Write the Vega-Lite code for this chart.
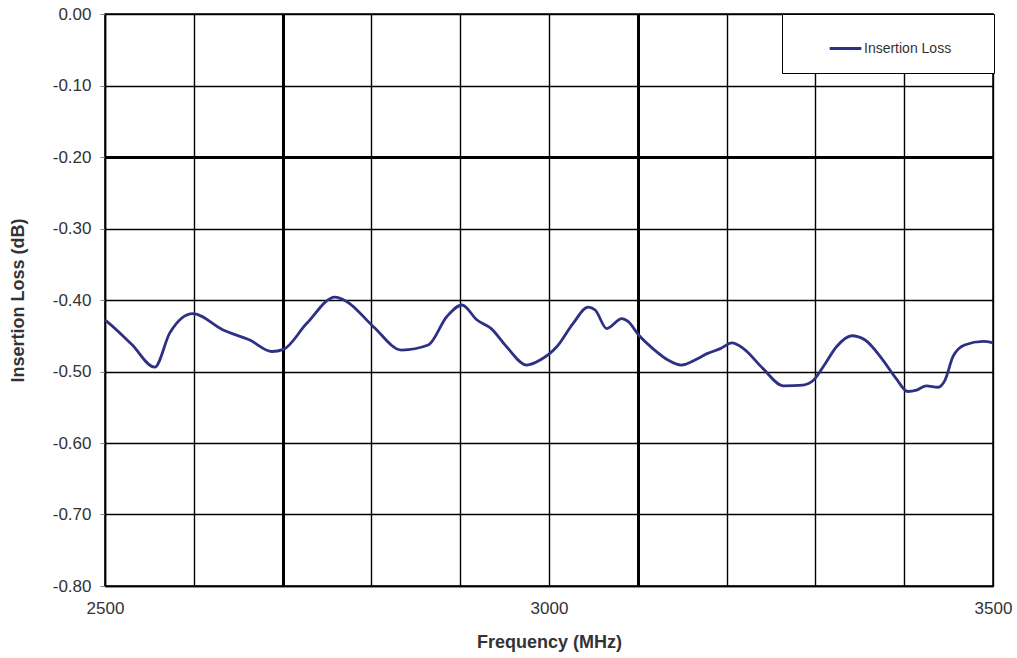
{
  "$schema": "https://vega.github.io/schema/vega-lite/v6.json",
  "width": 888,
  "height": 572,
  "autosize": "none",
  "padding": {"left": 105, "top": 14, "right": 24, "bottom": 72},
  "background": "white",
  "config": {
    "font": "Liberation Sans",
    "view": {"stroke": "black", "strokeWidth": 1.5}
  },
  "data": {
    "values": [
      {"freq": 2500, "loss": -0.428},
      {"freq": 2502, "loss": -0.430},
      {"freq": 2530, "loss": -0.462},
      {"freq": 2556, "loss": -0.494},
      {"freq": 2573, "loss": -0.446},
      {"freq": 2599, "loss": -0.419},
      {"freq": 2633, "loss": -0.442},
      {"freq": 2663, "loss": -0.456},
      {"freq": 2688, "loss": -0.472},
      {"freq": 2701, "loss": -0.469},
      {"freq": 2727, "loss": -0.433},
      {"freq": 2759, "loss": -0.396},
      {"freq": 2772, "loss": -0.402},
      {"freq": 2802, "loss": -0.437},
      {"freq": 2834, "loss": -0.470},
      {"freq": 2864, "loss": -0.463},
      {"freq": 2885, "loss": -0.423},
      {"freq": 2902, "loss": -0.407},
      {"freq": 2919, "loss": -0.428},
      {"freq": 2935, "loss": -0.440},
      {"freq": 2952, "loss": -0.465},
      {"freq": 2975, "loss": -0.491},
      {"freq": 2990, "loss": -0.484},
      {"freq": 3009, "loss": -0.465},
      {"freq": 3027, "loss": -0.433},
      {"freq": 3044, "loss": -0.410},
      {"freq": 3052, "loss": -0.414},
      {"freq": 3065, "loss": -0.440},
      {"freq": 3082, "loss": -0.426},
      {"freq": 3089, "loss": -0.430},
      {"freq": 3101, "loss": -0.449},
      {"freq": 3117, "loss": -0.468},
      {"freq": 3134, "loss": -0.484},
      {"freq": 3149, "loss": -0.491},
      {"freq": 3166, "loss": -0.483},
      {"freq": 3178, "loss": -0.475},
      {"freq": 3193, "loss": -0.468},
      {"freq": 3206, "loss": -0.460},
      {"freq": 3219, "loss": -0.468},
      {"freq": 3241, "loss": -0.496},
      {"freq": 3264, "loss": -0.520},
      {"freq": 3286, "loss": -0.519},
      {"freq": 3298, "loss": -0.512},
      {"freq": 3309, "loss": -0.493},
      {"freq": 3324, "loss": -0.465},
      {"freq": 3341, "loss": -0.450},
      {"freq": 3356, "loss": -0.456},
      {"freq": 3376, "loss": -0.484},
      {"freq": 3391, "loss": -0.510},
      {"freq": 3404, "loss": -0.528},
      {"freq": 3414, "loss": -0.526},
      {"freq": 3425, "loss": -0.520},
      {"freq": 3438, "loss": -0.522},
      {"freq": 3446, "loss": -0.512},
      {"freq": 3455, "loss": -0.479},
      {"freq": 3468, "loss": -0.463},
      {"freq": 3489, "loss": -0.458},
      {"freq": 3500, "loss": -0.460}
    ]
  },
  "mark": {"type": "line", "interpolate": "monotone", "strokeWidth": 2.8},
  "encoding": {
    "x": {
      "field": "freq",
      "type": "quantitative",
      "scale": {"domain": [2500, 3500], "nice": false, "zero": false},
      "axis": {
        "values": [2500, 2600, 2700, 2800, 2900, 3000, 3100, 3200, 3300, 3400, 3500],
        "labelExpr": "datum.value % 500 === 0 ? format(datum.value, 'd') : ''",
        "grid": true,
        "gridColor": "black",
        "gridOpacity": 1,
        "gridWidth": {"condition": {"test": "datum.value === 2700 || datum.value === 3100", "value": 3}, "value": 1.4},
        "ticks": false,
        "domainColor": "black",
        "domainWidth": 1.5,
        "labelFontSize": 17,
        "labelColor": "#333333",
        "labelPadding": 14,
        "labelFlush": false,
        "title": "Frequency (MHz)",
        "titleFontSize": 18,
        "titleFontWeight": "bold",
        "titleColor": "#333333",
        "titlePadding": 17
      }
    },
    "y": {
      "field": "loss",
      "type": "quantitative",
      "scale": {"domain": [-0.8, 0], "nice": false, "zero": false},
      "axis": {
        "values": [-0.8, -0.7, -0.6, -0.5, -0.4, -0.3, -0.2, -0.1, 0],
        "labelExpr": "datum.value < -0.001 ? '-' + format(-datum.value, '.2f') : '0.00'",
        "grid": true,
        "gridColor": "black",
        "gridOpacity": 1,
        "gridWidth": {"condition": {"test": "abs(datum.value + 0.2) < 0.001", "value": 3}, "value": 1.4},
        "ticks": true,
        "tickSize": 5,
        "tickColor": "#888888",
        "domainColor": "black",
        "domainWidth": 1.5,
        "labelFontSize": 17,
        "labelColor": "#333333",
        "labelPadding": 9,
        "labelFlush": false,
        "title": "Insertion Loss (dB)",
        "titleFontSize": 18,
        "titleFontWeight": "bold",
        "titleColor": "#333333",
        "titlePadding": 25
      }
    },
    "color": {
      "datum": "Insertion Loss",
      "type": "nominal",
      "scale": {"range": ["#2E3183"]},
      "legend": {
        "orient": "none",
        "legendX": 677,
        "legendY": 0,
        "title": "\u00a0",
        "titleOrient": "right",
        "titleFontSize": 8,
        "titlePadding": 26,
        "strokeColor": "black",
        "fillColor": "white",
        "padding": 17,
        "symbolType": "stroke",
        "symbolSize": 1000,
        "symbolStrokeWidth": 2.8,
        "symbolOffset": 29,
        "labelFontSize": 14,
        "labelColor": "#333333",
        "labelOffset": 1
      }
    }
  }
}
